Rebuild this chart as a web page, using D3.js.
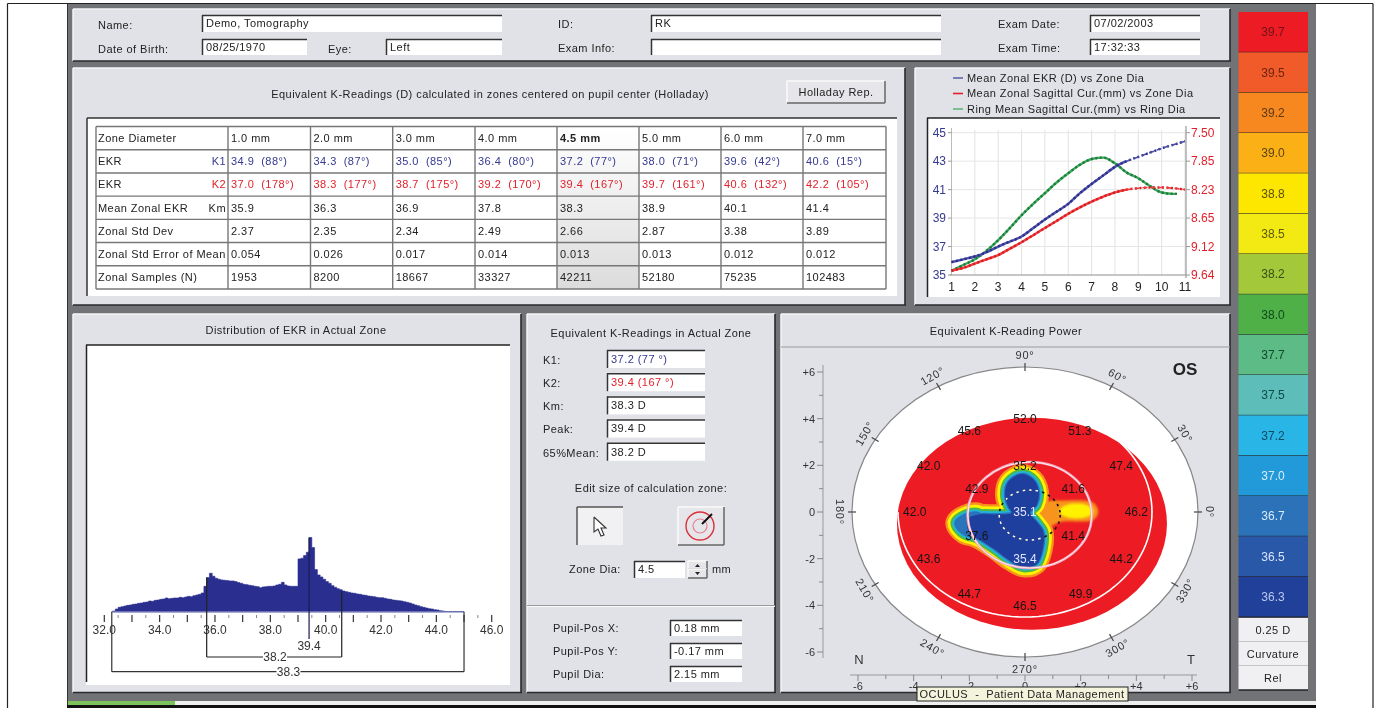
<!DOCTYPE html>
<html>
<head>
<meta charset="utf-8">
<script src="https://cdn.jsdelivr.net/npm/d3@7"></script>
<style>
body { margin: 0; background: #fff; }
svg { display: block; filter: blur(0.4px); }
text { font-family: "Liberation Sans", Arial, sans-serif; font-size: 11px; letter-spacing: 0.45px; fill: #222; }
</style>
</head>
<body>
<script>
const panel_color = "#e1e2e8";
const chrome_color = "#727377";
const blue_text = "#35398f";
const red_text = "#e3202a";

// header
const headerFields = [
  ["Name:", 98, 25, 202, 502, 15, 32, "Demo, Tomography"],
  ["Date of Birth:", 98, 49, 202, 307, 39, 55, "08/25/1970"],
  ["Eye:", 328, 49, 386, 502, 39, 55, "Left"],
  ["ID:", 558, 24, 651, 941, 15, 32, "RK"],
  ["Exam Info:", 558, 48, 651, 941, 39, 55, ""],
  ["Exam Date:", 998, 24, 1090, 1200, 15, 32, "07/02/2003"],
  ["Exam Time:", 998, 48, 1090, 1200, 39, 55, "17:32:33"]
];

// k-readings table
const zoneLabels = ["1.0 mm", "2.0 mm", "3.0 mm", "4.0 mm", "4.5 mm", "5.0 mm", "6.0 mm", "7.0 mm"];
const k1Row = ["34.9  (88°)", "34.3  (87°)", "35.0  (85°)", "36.4  (80°)", "37.2  (77°)", "38.0  (71°)", "39.6  (42°)", "40.6  (15°)"];
const k2Row = ["37.0  (178°)", "38.3  (177°)", "38.7  (175°)", "39.2  (170°)", "39.4  (167°)", "39.7  (161°)", "40.6  (132°)", "42.2  (105°)"];
const kmRow = ["35.9", "36.3", "36.9", "37.8", "38.3", "38.9", "40.1", "41.4"];
const stdRow = ["2.37", "2.35", "2.34", "2.49", "2.66", "2.87", "3.38", "3.89"];
const errRow = ["0.054", "0.026", "0.017", "0.014", "0.013", "0.013", "0.012", "0.012"];
const samplesRow = ["1953", "8200", "18667", "33327", "42211", "52180", "75235", "102483"];
const rowNames = ["Zone Diameter", "EKR", "EKR", "Mean Zonal EKR", "Zonal Std Dev", "Zonal Std Error of Mean", "Zonal Samples (N)"];
const rowTags = ["", "K1", "K2", "Km", "", "", ""];

// line chart, zone diameter against dioptres
const chartX = [1, 1.5, 2, 2.5, 3, 3.5, 4, 4.5, 5, 5.5, 6, 6.5, 7, 7.5, 8, 8.5, 9, 9.5, 10, 10.5, 11];
const meanEkr = [35.9, 36.1, 36.3, 36.6, 37.0, 37.35, 37.7, 38.3, 38.9, 39.45, 40.0, 40.75, 41.4, 42.0, 42.6, 43.0, 43.3, 43.6, 43.9, 44.15, 44.4];
const zonalSag = [35.3, 35.5, 35.8, 36.1, 36.4, 36.85, 37.3, 37.8, 38.3, 38.8, 39.3, 39.75, 40.15, 40.5, 40.8, 41.0, 41.1, 41.15, 41.15, 41.1, 41.0];
const ringX = [1, 1.5, 2, 2.5, 3, 3.5, 4, 4.5, 5, 5.5, 6, 6.5, 7, 7.5, 8, 8.5, 9, 9.5, 10, 10.5, 10.65];
const ringSag = [35.3, 35.7, 36.1, 36.7, 37.45, 38.3, 39.2, 40.0, 40.75, 41.5, 42.15, 42.75, 43.15, 43.25, 42.85, 42.2, 41.8, 41.25, 40.8, 40.7, 40.7];
const leftTicks = [35, 37, 39, 41, 43, 45];
const rightTicks = ["9.64", "9.12", "8.65", "8.23", "7.85", "7.50"];
const legendLabels = ["Mean Zonal EKR (D) vs Zone Dia", "Mean Zonal Sagittal Cur.(mm) vs Zone Dia", "Ring Mean Sagittal Cur.(mm) vs Ring Dia"];

// histogram, one value per 0.1 D from 32.3
const histStart = 32.3;
const histValues = [2, 8, 13, 15, 17, 19, 20, 22, 23, 25, 26, 28, 29, 32, 31, 34, 35, 37, 38, 41, 39, 40,
  41, 41, 43, 42, 44, 46, 45, 48, 50, 52, 56, 76, 102, 115, 106, 100, 97, 95, 94, 93,
  92, 92, 90, 87, 85, 82, 81, 79, 78, 76, 75, 72, 74, 75, 76, 76, 77, 80, 82, 88,
  80, 77, 76, 76, 76, 158, 160, 168, 178, 222, 192, 126, 110, 104, 97, 90, 85, 78, 73, 69,
  66, 62, 60, 58, 56, 55, 53, 52, 50, 49, 47, 46, 45, 43, 42, 42, 40, 38, 37, 35,
  34, 33, 32, 30, 28, 26, 23, 20, 18, 15, 13, 11, 9, 8, 6, 5, 3, 2, 1];

// middle panel
const readingFields = [
  ["K1:", "37.2  (77 °)", blue_text],
  ["K2:", "39.4  (167 °)", red_text],
  ["Km:", "38.3 D", "#222"],
  ["Peak:", "39.4 D", "#222"],
  ["65%Mean:", "38.2 D", "#222"]
];
const pupilFields = [["Pupil-Pos X:", "0.18 mm"], ["Pupil-Pos Y:", "-0.17 mm"], ["Pupil Dia:", "2.15 mm"]];

// map, all in mm
const mapLabels = [
  ["52.0", 0, 4, "#151515"], ["51.3", 1.97, 3.46, "#151515"], ["45.6", -2, 3.46, "#151515"],
  ["42.0", -3.46, 2, "#151515"], ["47.4", 3.46, 2, "#151515"], ["42.0", -3.96, 0, "#151515"],
  ["46.2", 4, 0, "#151515"], ["43.6", -3.46, -2, "#151515"], ["44.2", 3.46, -2, "#151515"],
  ["44.7", -2, -3.5, "#151515"], ["49.9", 2, -3.5, "#151515"], ["46.5", 0, -4, "#151515"],
  ["35.2", 0, 2, "#151515"], ["42.9", -1.73, 1, "#151515"], ["41.6", 1.73, 1, "#151515"],
  ["37.6", -1.73, -1, "#151515"], ["41.4", 1.73, -1, "#151515"], ["35.4", 0, -2, "#dfe6ff"], ["35.1", 0, 0, "#dfe6ff"]
];
const blobX = [-0.12, 0.30, 0.50, 0.42, 0.18, 0.42, 0.66, 0.63, 0.42, -0.06, -0.54, -1.07, -1.61, -2.0, -2.05, -1.61, -1.01, -0.48, -0.60, -0.72, -0.60];
const blobY = [1.63, 1.40, 0.87, 0.30, -0.03, -0.42, -0.84, -1.63, -2.23, -2.37, -2.09, -1.62, -1.2, -0.92, -0.3, -0.1, -0.1, -0.03, 0.23, 0.73, 1.30];
const lobeX = [-2.5, -2.0, -1.6, -1.6, -2.2];
const lobeY = [-0.45, -0.05, -0.1, -1.0, -0.95];
const barX = [0.48, 0.78, 1.31, 2.45, 2.63, 2.45, 1.31, 0.78];
const barY = [0.01, 0.44, 0.49, 0.40, 0.01, -0.34, -0.42, -0.63];
const angleLabels = [0, 30, 60, 90, 120, 150, 180, 210, 240, 270, 300, 330];
const labelTurn = [90, 60, 30, 0, -30, -60, 90, 60, 30, 0, -30, -60];

// colour key
const keyLabels = ["39.7", "39.5", "39.2", "39.0", "38.8", "38.5", "38.2", "38.0", "37.7", "37.5", "37.2", "37.0", "36.7", "36.5", "36.3"];
const keyColors = ["#ed1c24", "#f15a29", "#f7871f", "#fbb016", "#fde600", "#f2ea12", "#a3c93a", "#4fb047", "#5dbb85", "#5cbdb9", "#29b5e5", "#2299d8", "#2c72b8", "#2a58a8", "#21409a"];
const keyText = ["#6e1418", "#6e2410", "#5a3a10", "#5a4410", "#5a5210", "#5a5a10", "#34501a", "#0f4a1a", "#0f4a2a", "#0f4a4a", "#0f4a60", "#d8ecff", "#d8ecff", "#d8e4ff", "#b8c8f0"];
const keyFooter = ["0.25 D", "Curvature", "Rel"];

const svg = d3.select("body").append("svg").attr("width", 1377).attr("height", 708);
const defs = svg.append("defs");
defs.append("filter").attr("id", "soft").append("feGaussianBlur").attr("stdDeviation", 1.2);

function label(str, x, y, opts) {
  opts = opts || {};
  return svg.append("text").text(str)
    .attr("x", x).attr("y", y)
    .attr("dy", "0.35em")
    .attr("text-anchor", opts.anchor || "start")
    .style("font-size", (opts.size || 11) + "px")
    .style("font-weight", opts.weight || "normal")
    .style("letter-spacing", opts.spacing === undefined ? null : opts.spacing + "px")
    .style("fill", opts.color || "#222");
}

function seg(x1, y1, x2, y2, color, w) {
  return svg.append("line").attr("x1", x1).attr("y1", y1).attr("x2", x2).attr("y2", y2)
    .attr("stroke", color).attr("stroke-width", w || 1);
}

function panel(x0, x1, y0, y1) {
  svg.append("rect").attr("x", x0).attr("y", y0).attr("width", x1 - x0).attr("height", y1 - y0).attr("fill", panel_color);
  seg(x0, y0, x1, y0, "#f4f4f7", 1.5);
  seg(x0, y0, x0, y1, "#f4f4f7", 1.5);
  seg(x0, y1, x1 + 1, y1, "#2a2a2c", 1.6);
  seg(x1, y0, x1, y1, "#2a2a2c", 1.6);
}

function field(x0, x1, y0, y1, str, color) {
  svg.append("rect").attr("x", x0).attr("y", y0).attr("width", x1 - x0).attr("height", y1 - y0).attr("fill", "#fff");
  seg(x0, y0 + 0.5, x1, y0 + 0.5, "#333", 1.5);
  seg(x0 + 0.5, y0, x0 + 0.5, y1, "#333", 1.5);
  if (str) label(str, x0 + 4, (y0 + y1) / 2, { color: color });
}

function button(x0, x1, y0, y1) {
  svg.append("rect").attr("x", x0).attr("y", y0).attr("width", x1 - x0).attr("height", y1 - y0).attr("fill", "#e6e6ea");
  seg(x0, y0, x1, y0, "#fafafa", 1.5);
  seg(x0, y0, x0, y1, "#fafafa", 1.5);
  seg(x0, y1, x1, y1, "#666", 1.5);
  seg(x1, y0, x1, y1, "#666", 1.5);
}

// page frame and window
seg(7.5, 3.5, 1373, 3.5, "#222", 1.2);
seg(7.5, 3.5, 7.5, 708, "#222", 1.2);
seg(1373, 3.5, 1373, 708, "#222", 1.2);
svg.append("rect").attr("x", 68).attr("y", 4).attr("width", 1248).attr("height", 697).attr("fill", chrome_color);
seg(67.5, 4, 67.5, 708, "#333", 1);
svg.append("rect").attr("x", 68).attr("y", 701).attr("width", 1248).attr("height", 4).attr("fill", "#eef0f0");
svg.append("rect").attr("x", 68).attr("y", 701).attr("width", 107).attr("height", 4).attr("fill", "#7cc35c");
svg.append("rect").attr("x", 67).attr("y", 705).attr("width", 1249).attr("height", 3).attr("fill", "#111");

panel(73, 1230, 9, 61);
panel(73, 905, 68, 305);
panel(915, 1230, 68, 305);
panel(73, 521, 314, 692.5);
panel(527, 775, 314, 692.5);
panel(781, 1230, 314, 692.5);

// header fields
headerFields.forEach(f => {
  label(f[0], f[1], f[2]);
  field(f[3], f[4], f[5], f[6], f[7]);
});

// table
label("Equivalent K-Readings (D) calculated in zones centered on pupil center (Holladay)", 490, 94, { anchor: "middle" });
button(787, 885, 81, 103);
label("Holladay Rep.", 836, 92, { anchor: "middle" });
svg.append("rect").attr("x", 87).attr("y", 118).attr("width", 810).attr("height", 178).attr("fill", "#fff");
seg(87, 118, 897, 118, "#333", 1.5);
seg(87, 118, 87, 296, "#333", 1.5);

const colEdges = [96, 228, 310.5, 392.7, 475, 557, 639, 721, 803, 886];
const rowScale = d3.scaleBand().domain(d3.range(7)).range([126.5, 289]);
const tableRows = [zoneLabels, k1Row, k2Row, kmRow, stdRow, errRow, samplesRow];
const rowColors = ["#222", blue_text, red_text, "#222", "#222", "#222", "#222"];

const shade = defs.append("linearGradient").attr("id", "shade").attr("x1", 0).attr("y1", 0).attr("x2", 0).attr("y2", 1);
shade.append("stop").attr("offset", "0%").attr("stop-color", "#fff");
shade.append("stop").attr("offset", "100%").attr("stop-color", "#dcdcdc");
svg.append("rect").attr("x", colEdges[5]).attr("y", 126.5).attr("width", colEdges[6] - colEdges[5]).attr("height", 162.5).attr("fill", "url(#shade)");

defs.append("clipPath").attr("id", "nameClip").append("rect").attr("x", 96).attr("y", 120).attr("width", 131).attr("height", 175);
rowNames.forEach((n, i) => {
  const y = rowScale(i) + rowScale.bandwidth() / 2;
  label(n, 98, y).attr("clip-path", "url(#nameClip)");
  if (rowTags[i]) label(rowTags[i], 226, y, { anchor: "end", color: rowColors[i] });
  tableRows[i].forEach((v, j) => {
    label(v, colEdges[j + 1] + 3, y, { color: rowColors[i], weight: (i === 0 && j === 4) ? "bold" : "normal" })
      .style("white-space", "pre");
  });
});
colEdges.forEach(x => seg(x, 126.5, x, 289, "#777", 1.4));
d3.range(8).forEach(i => seg(96, 126.5 + i * rowScale.step(), 886, 126.5 + i * rowScale.step(), "#777", 1.4));

// line chart
legendLabels.forEach((t, i) => {
  const y = 78 + i * 15.5;
  seg(953, y, 963, y, [blue_text, red_text, "#35a854"][i], i === 1 ? 1.6 : 1.2);
  label(t, 967, y);
});
svg.append("rect").attr("x", 927).attr("y", 118).attr("width", 293).attr("height", 179).attr("fill", "#fff");
seg(927, 118, 1220, 118, "#222", 1.5);
seg(927.5, 118, 927.5, 297, "#222", 1.5);

const xChart = d3.scaleLinear().domain([1, 11]).range([951.5, 1185]);
const yChart = d3.scaleLinear().domain([35, 45]).range([275, 132.7]);
chartX.forEach(v => { if (Number.isInteger(v)) seg(xChart(v), 130, xChart(v), 275, "#e2e2e2", 1); });
leftTicks.forEach(v => seg(951.5, yChart(v), 1185, yChart(v), "#e6e6e6", 1));
seg(951.5, 128, 951.5, 275, "#bbb", 1);
seg(1186, 126, 1186, 278, "#999", 1.2);
seg(950, 275, 1186, 275, "#999", 1.2);
leftTicks.forEach((v, i) => {
  seg(948, yChart(v), 951.5, yChart(v), "#999", 1);
  seg(1186, yChart(v), 1190, yChart(v), "#999", 1);
  label(v, 946, yChart(v), { anchor: "end", color: blue_text, size: 12, spacing: 0 });
  label(rightTicks[i], 1191, yChart(v), { color: red_text, size: 12, spacing: 0 });
});
chartX.forEach(v => { if (Number.isInteger(v)) label(v, xChart(v), 286.5, { anchor: "middle", size: 12, spacing: 0 }); });

const chartLine = d3.line().curve(d3.curveMonotoneX);
function drawCurve(xs, ys, color, dark, cutoff) {
  const pts = xs.map((v, i) => [xChart(v), yChart(ys[i])]);
  const solid = pts.filter((p, i) => xs[i] <= cutoff);
  const rest = pts.filter((p, i) => xs[i] >= cutoff);
  svg.append("path").attr("d", chartLine(solid)).attr("fill", "none").attr("stroke", color).attr("stroke-width", 2.4);
  svg.append("path").attr("d", chartLine(pts)).attr("fill", "none").attr("stroke", dark).attr("stroke-width", 2.4).attr("stroke-dasharray", "2 2.5");
  if (rest.length > 1) svg.append("path").attr("d", chartLine(rest)).attr("fill", "none").attr("stroke", color).attr("stroke-width", 1.6).attr("stroke-dasharray", "5 3");
}
drawCurve(ringX, ringSag, "#3aa85a", "#1e7a3c", 11);
drawCurve(chartX, zonalSag, "#f03a3a", "#d31c24", 8.5);
drawCurve(chartX, meanEkr, "#4a4ea8", "#2c2f8c", 8.5);

// histogram
label("Distribution of EKR in Actual Zone", 296, 330, { anchor: "middle" });
svg.append("rect").attr("x", 86).attr("y", 345).attr("width", 424).attr("height", 340).attr("fill", "#fff");
seg(86, 345, 510, 345, "#222", 1.5);
seg(86.5, 345, 86.5, 682, "#222", 1.5);

const xHist = d3.scaleLinear().domain([32, 46]).range([104.3, 491.7]);
const yHist = d3.scaleLinear().domain([0, 222]).range([611.7, 537.5]);
const histArea = d3.area()
  .curve(d3.curveStepAfter)
  .x((d, i) => xHist(histStart + i * 0.1))
  .y0(yHist(0))
  .y1(d => yHist(d));
svg.append("path").datum(histValues).attr("d", histArea).attr("fill", "#2a2f8f").attr("stroke", "#2a2f8f").attr("stroke-width", 0.6);
seg(xHist(32.27), 611.7, xHist(45), 611.7, "#6a70b0", 1.4);

d3.range(32, 46.01, 0.5).forEach(v => {
  const major = Number.isInteger(v);
  if (major) seg(xHist(v), 615, xHist(v), 622, "#333", 1.2);
  else seg(xHist(v), 615, xHist(v), 618, "#888", 1);
});
d3.range(32, 46.01, 2).forEach(v => label(v.toFixed(1), xHist(v), 629.5, { anchor: "middle", size: 12, spacing: 0, color: "#333" }));

// outer bracket, 65% bracket and peak
seg(xHist(32.27), 611.7, xHist(32.27), 671.7, "#333", 1.2);
seg(xHist(45), 611.7, xHist(45), 671.7, "#333", 1.2);
seg(xHist(32.27), 671.7, xHist(45), 671.7, "#333", 1.2);
seg(xHist(35.7), yHist(102), xHist(35.7), 657, "#222", 1.2);
seg(xHist(40.58), yHist(62), xHist(40.58), 657, "#222", 1.2);
seg(xHist(35.7), 657, xHist(40.58), 657, "#222", 1.2);
seg(xHist(39.4), yHist(222), xHist(39.4), 639, "#1a1a50", 1.2);
label("39.4", xHist(39.4), 646, { anchor: "middle", size: 12, spacing: 0, color: "#333" });
[["38.2", 275, 657], ["38.3", 288.5, 671.7]].forEach(t => {
  svg.append("rect").attr("x", t[1] - 12).attr("y", t[2] - 6).attr("width", 24).attr("height", 12).attr("fill", "#fff");
  label(t[0], t[1], t[2], { anchor: "middle", size: 12, spacing: 0, color: "#333" });
});

// middle panel
label("Equivalent K-Readings in Actual Zone", 651, 333, { anchor: "middle" });
readingFields.forEach((f, i) => {
  const y0 = 350 + i * 23.2;
  label(f[0], 543, y0 + 10);
  field(607, 705, y0, y0 + 18, f[1], f[2]);
});
label("Edit size of calculation zone:", 651, 488, { anchor: "middle" });
svg.append("rect").attr("x", 577).attr("y", 507).attr("width", 46).attr("height", 38).attr("fill", "#f1f1f4");
seg(577, 507, 623, 507, "#555", 1.5);
seg(577, 507, 577, 545, "#555", 1.5);
svg.append("path")
  .attr("d", d3.line()([[594, 517], [594, 532], [598, 529], [601, 536], [604, 535], [601, 528], [606, 528], [594, 517]]))
  .attr("fill", "#fff").attr("stroke", "#333").attr("stroke-width", 1.1);
button(678, 724, 507, 545);
svg.append("circle").attr("cx", 700).attr("cy", 526).attr("r", 14).attr("fill", "none").attr("stroke", "#d9303a").attr("stroke-width", 1.4);
svg.append("circle").attr("cx", 700).attr("cy", 526).attr("r", 7).attr("fill", "none").attr("stroke", "#e88090").attr("stroke-width", 1.2);
seg(702, 524, 712, 514, "#111", 2);
label("Zone Dia:", 569, 569);
field(634, 685, 561, 578, "4.5");
button(688, 707, 561, 569);
button(688, 707, 569, 578);
svg.append("path").attr("d", d3.line()([[695, 567], [700, 567], [697.5, 564]])).attr("fill", "#222");
svg.append("path").attr("d", d3.line()([[695, 572], [700, 572], [697.5, 575]])).attr("fill", "#222");
label("mm", 712, 569);
seg(527, 605.5, 775, 605.5, "#9a9a9a", 1);
seg(527, 606.5, 775, 606.5, "#fbfbfb", 1);
pupilFields.forEach((f, i) => {
  const y0 = 620 + i * 23;
  label(f[0], 553, y0 + 8);
  field(670, 742, y0, y0 + 16, f[1]);
});

// map
label("Equivalent K-Reading Power", 1006, 331, { anchor: "middle" });
seg(781, 347, 1230, 347, "#9a9a9a", 1);
const xMm = d3.scaleLinear().domain([-6, 6]).range([858, 1192]);
const yMm = d3.scaleLinear().domain([-6, 6]).range([652, 372]);

function ellipse(cx, cy, rx, ry) {
  return svg.append("ellipse").attr("cx", xMm(cx)).attr("cy", yMm(cy)).attr("rx", rx).attr("ry", ry);
}
ellipse(0, 0, 173, 145).attr("fill", "#fff").attr("stroke", "#888").attr("stroke-width", 1.2);
ellipse(0.25, -0.5, 135, 106).attr("fill", "#ed1c24");

// white ring round the map, open at upper left
const ringArc = d3.line().curve(d3.curveLinear)(d3.range(45, -181, -3).map(a => [
  xMm(0) + 127 * Math.cos(a * Math.PI / 180),
  yMm(0) - 105 * Math.sin(a * Math.PI / 180)
]));
svg.append("path").attr("d", ringArc).attr("fill", "none").attr("stroke", "#fff").attr("stroke-width", 1.6);

const blobPts = blobX.map((v, i) => [xMm(v), yMm(blobY[i])]);
const lobePts = lobeX.map((v, i) => [xMm(v), yMm(lobeY[i])]);
const barPts = barX.map((v, i) => [xMm(v), yMm(barY[i])]);
const closed = d3.line().curve(d3.curveCatmullRomClosed.alpha(0.5));

svg.append("path").attr("d", closed(barPts)).attr("fill", "#f7941d").attr("filter", "url(#soft)");
ellipse(1.85, 0.04, 17, 7.5).attr("fill", "#fff200").attr("filter", "url(#soft)");

[["#f7941d", 20], ["#fff200", 15.5], ["#4db848", 10], ["#20b5dc", 6], ["#2a74bb", 2.5]].forEach(l => {
  [blobPts, lobePts].forEach(pts => {
    svg.append("path").attr("d", closed(pts)).attr("fill", l[0]).attr("stroke", l[0])
      .attr("stroke-width", l[1]).attr("stroke-linejoin", "round");
  });
});
svg.append("path").attr("d", closed(blobPts)).attr("fill", "#1f3f9e");
defs.append("clipPath").attr("id", "blobClip").append("path").attr("d", closed(blobPts));

// pink pupil ring
ellipse(0.17, -0.13, 62, 53).attr("fill", "none").attr("stroke", "#f2a3b8").attr("stroke-width", 2.6);
ellipse(0.17, -0.13, 62, 53).attr("fill", "none").attr("stroke", "#fff").attr("stroke-width", 0.8);
// zone ring, black over the red, white over the blue
ellipse(0.17, -0.13, 30.5, 25).attr("fill", "none").attr("stroke", "#111").attr("stroke-width", 1.6).attr("stroke-dasharray", "2.5 4");
ellipse(0.17, -0.13, 30.5, 25).attr("fill", "none").attr("stroke", "#fff").attr("stroke-width", 1.6).attr("stroke-dasharray", "2.5 4").attr("clip-path", "url(#blobClip)");

mapLabels.forEach(d => label(d[0], xMm(d[1]), yMm(d[2]), { anchor: "middle", size: 12, spacing: 0, color: d[3] }));

angleLabels.forEach((a, i) => {
  const c = Math.cos(a * Math.PI / 180), s = Math.sin(a * Math.PI / 180);
  seg(xMm(0) + 169 * c, yMm(0) - 141 * s, xMm(0) + 177 * c, yMm(0) - 149 * s, "#444", 1.2);
  const lx = xMm(0) + 185 * c, ly = yMm(0) - 157 * s;
  label(a + "°", lx, ly, { anchor: "middle", color: "#333", spacing: 0.8 })
    .attr("transform", `rotate(${labelTurn[i]},${lx},${ly})`);
});

seg(823, 365, 823, 658, "#999", 1);
d3.range(-6, 6.01, 1).forEach(v => {
  const major = v % 2 === 0;
  seg(major ? 817 : 819, yMm(v), 823, yMm(v), "#888", 1);
  if (major) label(v > 0 ? "+" + v : v, 815, yMm(v), { anchor: "end", color: "#333", size: 11, spacing: 0 });
});
seg(850, 675, 1197, 675, "#999", 1);
d3.range(-6, 6.01, 1).forEach(v => {
  const major = v % 2 === 0;
  seg(xMm(v), 675, xMm(v), major ? 681 : 679, "#888", 1);
  if (major) label(v > 0 ? "+" + v : v, xMm(v), 686, { anchor: "middle", color: "#333", spacing: 0 });
});
label("N", 859, 659, { anchor: "middle", size: 13, spacing: 0, color: "#333" });
label("T", 1191, 659, { anchor: "middle", size: 13, spacing: 0, color: "#333" });
label("OS", 1185, 369, { anchor: "middle", size: 17, weight: "bold", spacing: 0, color: "#222" });

svg.append("rect").attr("x", 917).attr("y", 687).attr("width", 211).attr("height", 14).attr("fill", "#f4f3dc").attr("stroke", "#222").attr("stroke-width", 1);
label("OCULUS  -  Patient Data Management", 1022, 694, { anchor: "middle" }).style("white-space", "pre");

// colour key
const yKey = d3.scaleBand().domain(keyLabels).range([12, 617]);
keyLabels.forEach((k, i) => {
  svg.append("rect").attr("x", 1238.5).attr("y", yKey(k)).attr("width", 69.5).attr("height", yKey.bandwidth()).attr("fill", keyColors[i]);
  seg(1238.5, yKey(k) + yKey.bandwidth(), 1308, yKey(k) + yKey.bandwidth(), "#222", 1);
  label(k, 1273, yKey(k) + yKey.bandwidth() / 2, { anchor: "middle", color: keyText[i], size: 12, spacing: 0 });
});
keyFooter.forEach((k, i) => {
  const y0 = 618 + i * 24;
  svg.append("rect").attr("x", 1238.5).attr("y", y0).attr("width", 69.5).attr("height", 24).attr("fill", "#f0f0f2");
  seg(1238.5, y0 + 24, 1308, y0 + 24, i === 2 ? "#222" : "#9a9a9a", i === 2 ? 1.6 : 1);
  label(k, 1273, y0 + 12, { anchor: "middle", color: "#222" });
});
</script>
</body>
</html>
